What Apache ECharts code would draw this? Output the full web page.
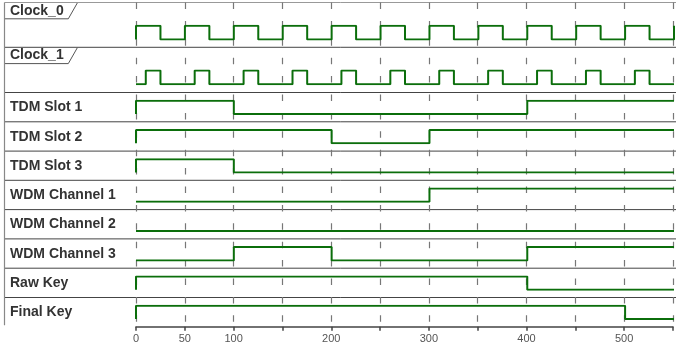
<!DOCTYPE html>
<html>
<head>
<meta charset="utf-8">
<script src="https://cdn.jsdelivr.net/npm/echarts@6/dist/echarts.min.js"></script>
<style>html,body{margin:0;padding:0;background:#fff}#c{width:676px;height:349px}</style>
</head>
<body>
<div id="c"></div>
<script>
// ---- data ----
const signalNames = ['Clock_0','Clock_1','TDM Slot 1','TDM Slot 2','TDM Slot 3','WDM Channel 1','WDM Channel 2','WDM Channel 3','Raw Key','Final Key'];
const clock0 = [[0,0],[0,1],[25,0],[50,1],[75,0],[100,1],[125,0],[150,1],[175,0],[200,1],[225,0],[250,1],[275,0],[300,1],[325,0],[350,1],[375,0],[400,1],[425,0],[450,1],[475,0],[500,1],[525,0],[550,1]];
const clock1 = [[0,0],[10,1],[25,0],[60,1],[75,0],[110,1],[125,0],[160,1],[175,0],[210,1],[225,0],[260,1],[275,0],[310,1],[325,0],[360,1],[375,0],[410,1],[425,0],[460,1],[475,0],[510,1],[525,0],[550,0]];
const tdmSlot1 = [[0,0],[0,1],[100,0],[400,1],[550,1]];
const tdmSlot2 = [[0,0],[0,1],[200,0],[300,1],[550,1]];
const tdmSlot3 = [[0,0],[0,1],[100,0],[550,0]];
const wdmChannel1 = [[0,0],[300,1],[550,1]];
const wdmChannel2 = [[0,0],[550,0]];
const wdmChannel3 = [[0,0],[100,1],[200,0],[400,1],[550,1]];
const rawKey = [[0,0],[0,1],[400,0],[550,0]];
const finalKey = [[0,0],[0,1],[500,0],[550,0]];
const signals = [clock0, clock1, tdmSlot1, tdmSlot2, tdmSlot3, wdmChannel1, wdmChannel2, wdmChannel3, rawKey, finalKey];
const xMin = 0, xMax = 550, xStep = 50;
const shownTickLabels = [0, 50, 100, 200, 300, 400, 500];

// ---- layout ----
const W = 676, H = 349;
const plotLeft = 136, plotRight = 2;
const topY = 2.5, axisY = 326.7, leftX = 4.5;
const rowTops = [2.5, 47.3, 92.5, 121.8, 151.1, 180.3, 209.6, 238.9, 268.2, 297.5];
const isClock = [true, true, false, false, false, false, false, false, false, false];
const green = '#0b6e0b';
const labelFont = 'bold 14px "Liberation Sans", Arial';

const chart = echarts.init(document.getElementById('c'), null, {renderer: 'canvas'});

const grids = [], xAxes = [], yAxes = [], series = [], graphics = [];
// background grid for dashed lines & bottom axis
grids.push({left: plotLeft, right: plotRight, top: topY, height: axisY - topY});
xAxes.push({type: 'value', gridIndex: 0, min: xMin, max: xMax, interval: xStep,
  axisLine: {show: true, lineStyle: {color: '#444', width: 1.5}},
  axisTick: {show: true, length: 4, lineStyle: {color: '#444', width: 1.5}},
  axisLabel: {show: true, color: '#555', fontSize: 11, fontFamily: 'Liberation Sans', margin: 7,
    formatter: v => shownTickLabels.indexOf(v) >= 0 ? String(v) : ''},
  splitLine: {show: true, lineStyle: {color: '#777', width: 1.2, type: [6.5, 11.9]}}});
yAxes.push({type: 'value', gridIndex: 0, show: false, min: 0, max: 1, splitLine: {show: false}});

signals.forEach((data, i) => {
  const top = rowTops[i];
  const hiY = isClock[i] ? top + 23.3 : top + 8.2;
  const loY = isClock[i] ? top + 36.9 : top + 21.5;
  const gi = grids.length;
  grids.push({left: plotLeft, right: plotRight, top: hiY, height: loY - hiY});
  xAxes.push({type: 'value', gridIndex: gi, min: xMin, max: xMax, show: false});
  yAxes.push({type: 'value', gridIndex: gi, min: 0, max: 1, show: false});
  series.push({type: 'line', xAxisIndex: gi, yAxisIndex: gi, data: data, step: 'end',
    showSymbol: false, silent: true, animation: false,
    lineStyle: {color: green, width: 2}});
  // separator line at row top
  graphics.push({type: 'line', shape: {x1: leftX, y1: top, x2: W, y2: top},
    style: {stroke: i === 0 ? '#999' : '#444', lineWidth: 1}});
  if (isClock[i]) {
    graphics.push({type: 'polyline', shape: {points: [[leftX, top + 16.3], [68.3, top + 16.3], [77.3, top + 0.5]]},
      style: {stroke: '#555', lineWidth: 1, fill: null}});
    graphics.push({type: 'text', x: 10, y: top + 8.3, style: {text: signalNames[i], fill: '#333',
      font: labelFont, verticalAlign: 'middle', align: 'left'}});
  } else {
    graphics.push({type: 'text', x: 10, y: top + 15, style: {text: signalNames[i], fill: '#333',
      font: labelFont, verticalAlign: 'middle', align: 'left'}});
  }
});
// left border
graphics.push({type: 'line', shape: {x1: leftX, y1: topY, x2: leftX, y2: axisY - 1.5},
  style: {stroke: '#888', lineWidth: 1.2}});

chart.setOption({
  animation: false,
  grid: grids, xAxis: xAxes, yAxis: yAxes, series: series,
  graphic: graphics
});
</script>
</body>
</html>
